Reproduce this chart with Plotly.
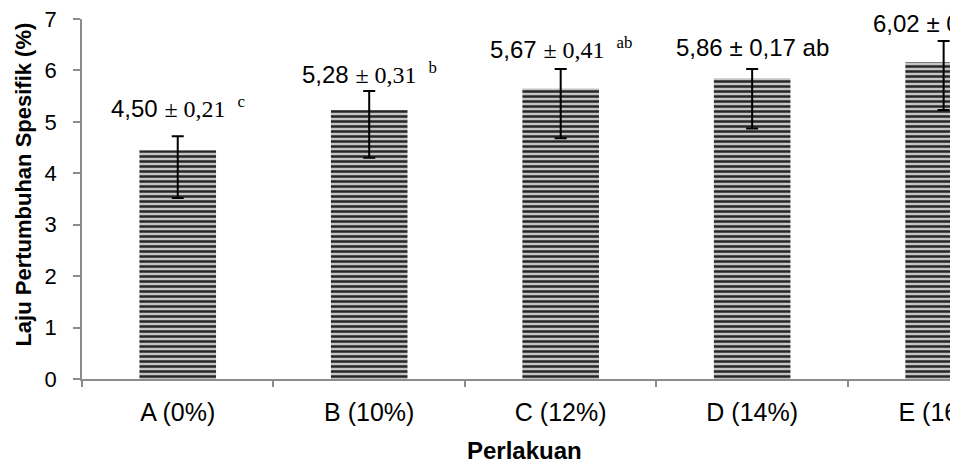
import plotly.graph_objects as go

categories = ["A (0%)", "B (10%)", "C (12%)", "D (14%)", "E (16%)"]
means = [4.45, 5.23, 5.65, 5.85, 6.16]
err_plus = [0.27, 0.37, 0.38, 0.18, 0.41]
err_minus = [0.93, 0.93, 0.97, 0.98, 0.93]
label_mean = ["4,50", "5,28", "5,67", "5,86", "6,02"]
label_sd = ["0,21", "0,31", "0,41", "0,17", "0,23"]
label_sig = ["c", "b", "ab", "ab", "a"]
label_serif = [True, True, True, False, False]

ARIAL = "Liberation Sans, Arial, sans-serif"
TIMES = "Liberation Serif, Times New Roman, serif"

fig = go.Figure()
fig.add_trace(go.Bar(
    x=categories, y=means, width=0.4,
    marker=dict(color="#bebebe", line=dict(width=0),
                pattern=dict(shape="-", fgcolor="#262626", bgcolor="#c4c4c4",
                             size=5, solidity=0.5, fillmode="replace")),
    error_y=dict(type="data", symmetric=False, array=err_plus, arrayminus=err_minus,
                 color="black", thickness=2, width=6),
    showlegend=False,
))

yshifts = [29, 18, 21, 21, 18]
for i, c in enumerate(categories):
    if label_serif[i]:
        txt = (f"{label_mean[i]} <span style='font-family:{TIMES}'>± {label_sd[i]}"
               f"  <sup>{label_sig[i]}</sup></span>")
    else:
        txt = f"{label_mean[i]} ± {label_sd[i]} {label_sig[i]}"
    fig.add_annotation(x=c, y=means[i] + err_plus[i], text=txt, showarrow=False,
                       xanchor="center", yanchor="middle",
                       yshift=yshifts[i],
                       font=dict(family=ARIAL, size=24, color="black"))

# axis titles as annotations for exact placement
fig.add_annotation(xref="paper", yref="paper", x=0, y=0.54, xshift=-58,
                   text="<b>Laju Pertumbuhan Spesifik (%)</b>", textangle=-90,
                   showarrow=False, xanchor="center", yanchor="middle",
                   font=dict(family=ARIAL, size=22, color="black"))
fig.add_annotation(xref="paper", yref="paper", x=0.5, y=0, xshift=4, yshift=-71,
                   text="<b>Perlakuan</b>", showarrow=False,
                   xanchor="center", yanchor="middle",
                   font=dict(family=ARIAL, size=24, color="black"))

axis_color = "#8c8c8c"
fig.update_layout(
    width=950, height=456,
    margin=dict(l=74, r=0, t=11, b=85),
    plot_bgcolor="white", paper_bgcolor="white",
    font=dict(family=ARIAL, color="black"),
    xaxis=dict(type="category", range=[-0.5, 4.075], showline=True, linecolor=axis_color,
               linewidth=1.5, ticks="outside", tickson="boundaries", ticklen=6,
               tickcolor=axis_color, tickwidth=1.5, showgrid=False, automargin=False,
               ticklabelstandoff=10, ticklabeloverflow="allow",
               tickfont=dict(size=25, family=ARIAL)),
    yaxis=dict(range=[0, 7], dtick=1, showline=True, linecolor=axis_color, linewidth=1.5,
               ticks="outside", ticklen=7, tickcolor=axis_color, tickwidth=1.5,
               showgrid=False, zeroline=False, ticklabelstandoff=12, automargin=False,
               ticklabeloverflow="allow",
               tickfont=dict(size=22, family=ARIAL)),
)

fig.write_html("out.html")
